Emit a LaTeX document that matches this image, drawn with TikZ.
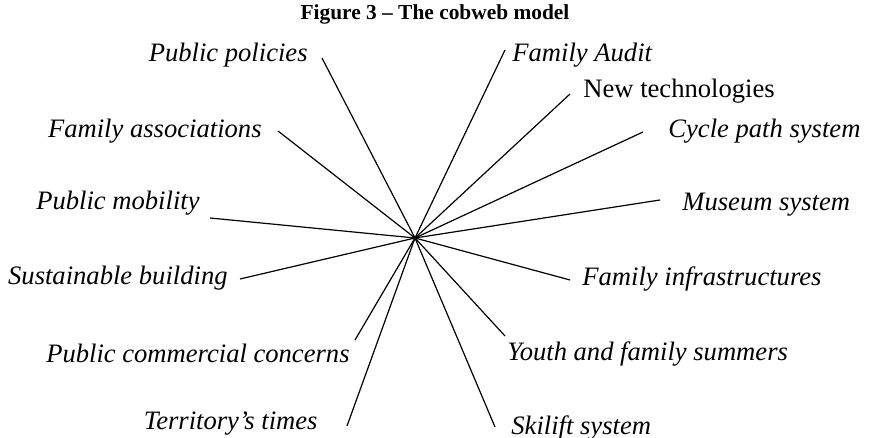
\documentclass[tikz,border=0pt]{standalone}
\usepackage{fontspec}
\setmainfont{Liberation Serif}
\begin{document}
\begin{tikzpicture}[x=0.5pt,y=0.5pt]
        \tikzstyle{topic}=[inner sep=0pt,font=\fontsize{13.3}{16}\selectfont\itshape]
        \tikzstyle{edge}=[draw, line width=0.6pt]
        \useasboundingbox (0,0) rectangle (869,438);
       \begin{scope}
         \node [font=\fontsize{10.7}{13}\selectfont\bfseries] (title) at (435,424) {Figure 3 -- The cobweb model};
         \coordinate (c) at (415,200);
         % left side
         \node [topic,anchor=east] (t1) at (308,383) {Public policies};
         \node [topic,anchor=east] (t2) at (262,307) {Family associations};
         \node [topic,anchor=east] (t3) at (200,235) {Public mobility};
         \node [topic,anchor=east] (t4) at (228,160) {Sustainable building};
         \node [topic,anchor=east] (t5) at (350,85) {Public commercial concerns};
         \node [topic,anchor=east] (t6) at (318,14) {Territory's times};
         % right side
         \node [topic,anchor=west] (t7) at (512,383) {Family Audit};
         \node [topic,anchor=west,font=\fontsize{13.3}{16}\selectfont\upshape] (t8) at (583,347) {New technologies};
         \node [topic,anchor=west] (t9) at (668,307) {Cycle path system};
         \node [topic,anchor=west] (t10) at (682,233) {Museum system};
         \node [topic,anchor=west] (t11) at (582,159) {Family infrastructures};
         \node [topic,anchor=west] (t12) at (507,84) {Youth and family summers};
         \node [topic,anchor=west] (t13) at (511,10) {Skilift system};

         \coordinate (e1) at (322,380);
         \coordinate (e2) at (278,307);
         \coordinate (e3) at (210,220);
         \coordinate (e4) at (240,159);
         \coordinate (e5) at (355,98);
         \coordinate (e6) at (347,12);
         \coordinate (e7) at (505,388);
         \coordinate (e8) at (570,344);
         \coordinate (e9) at (643,306);
         \coordinate (e10) at (660,238);
         \coordinate (e11) at (570,158);
         \coordinate (e12) at (505,102);
         \coordinate (e13) at (495,11);

         \path[edge] (c) -- (e1);
         \path[edge] (c) -- (e2);
         \path[edge] (c) -- (e3);
         \path[edge] (c) -- (e4);
         \path[edge] (c) -- (e5);
         \path[edge] (c) -- (e6);

         \path[edge] (c) -- (e7);
         \path[edge] (c) -- (e8);
         \path[edge] (c) -- (e9);
         \path[edge] (c) -- (e10);
         \path[edge] (c) -- (e11);
         \path[edge] (c) -- (e12);
         \path[edge] (c) -- (e13);
        \end{scope}
      \end{tikzpicture}
\end{document}
